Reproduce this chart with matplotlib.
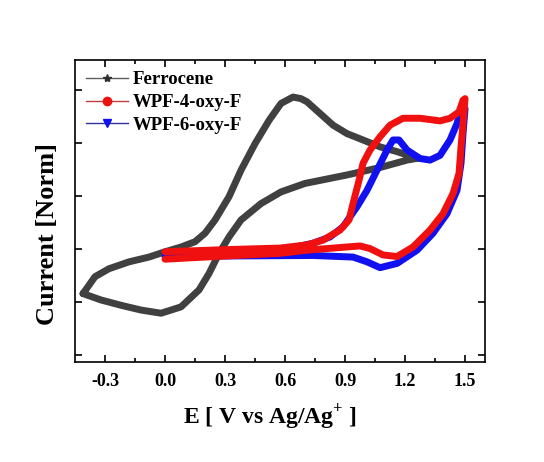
import matplotlib.pyplot as plt
from matplotlib.lines import Line2D

plt.rcParams['font.family'] = ['Liberation Serif', 'DejaVu Serif']
plt.rcParams['font.weight'] = 'bold'
plt.rcParams['axes.labelweight'] = 'bold'
plt.rcParams['mathtext.fontset'] = 'custom'
plt.rcParams['mathtext.rm'] = 'Liberation Serif:bold'
plt.rcParams['mathtext.bf'] = 'Liberation Serif:bold'

# Ferrocene loop (E [V], normalised current)
fc_x = [-0.41, -0.35, -0.28, -0.18, -0.08, 0.0, 0.08, 0.15, 0.2, 0.25, 0.32, 0.38, 0.45,
        0.52, 0.58, 0.64, 0.68, 0.71, 0.775, 0.84, 0.91, 0.99, 1.075, 1.16, 1.24, 1.27,
        1.21, 1.075, 0.91, 0.74, 0.7, 0.58, 0.48, 0.38, 0.32, 0.27, 0.22, 0.17, 0.08,
        -0.02, -0.12, -0.22, -0.32, -0.41]
fc_y = [-0.84, -0.52, -0.37, -0.24, -0.15, -0.05, 0.04, 0.14, 0.3, 0.55, 0.99, 1.49, 1.99,
        2.43, 2.75, 2.87, 2.84, 2.78, 2.56, 2.34, 2.18, 2.06, 1.93, 1.84, 1.74, 1.72,
        1.68, 1.54, 1.4, 1.27, 1.24, 1.08, 0.86, 0.55, 0.23, -0.08, -0.46, -0.77, -1.09,
        -1.21, -1.15, -1.06, -0.96, -0.84]

# WPF-4-oxy-F loop
r_x = [0.0, 0.3, 0.575, 0.71, 0.79, 0.875, 0.92, 0.94, 0.97, 0.99, 1.025, 1.075, 1.125,
       1.19, 1.275, 1.375, 1.425, 1.47, 1.49, 1.5, 1.49, 1.48, 1.47, 1.44, 1.39, 1.325,
       1.24, 1.16, 1.09, 1.025, 0.975, 0.875, 0.71, 0.575, 0.3, 0.0]
r_y = [-0.05, -0.01, 0.02, 0.08, 0.17, 0.36, 0.55, 0.86, 1.3, 1.62, 1.87, 2.12, 2.34,
       2.47, 2.47, 2.42, 2.47, 2.59, 2.81, 2.84, 2.37, 1.93, 1.43, 1.05, 0.67, 0.36,
       0.04, -0.14, -0.11, 0.01, 0.06, 0.03, -0.02, -0.08, -0.13, -0.19]

# WPF-6-oxy-F loop
b_x = [0.0, 0.3, 0.6, 0.74, 0.825, 0.89, 0.96, 1.01, 1.06, 1.11, 1.14, 1.17, 1.21, 1.275,
       1.325, 1.375, 1.425, 1.46, 1.48, 1.5, 1.49, 1.48, 1.46, 1.41, 1.34, 1.26, 1.16,
       1.075, 1.01, 0.94, 0.74, 0.3, 0.0]
b_y = [-0.08, -0.05, 0.0, 0.11, 0.23, 0.42, 0.8, 1.11, 1.49, 1.87, 2.06, 2.06, 1.87, 1.71,
       1.68, 1.77, 2.06, 2.37, 2.62, 2.65, 2.18, 1.62, 1.11, 0.67, 0.3, -0.02, -0.27,
       -0.35, -0.24, -0.15, -0.12, -0.13, -0.14]

xticks = [-0.3, 0.0, 0.3, 0.6, 0.9, 1.2, 1.5]
yticks = [-2, -1, 0, 1, 2, 3]

fig = plt.figure(figsize=(5.44, 4.62), dpi=100)
ax = fig.add_axes([0.1379, 0.2165, 0.7537, 0.6537])

style = dict(lw=5, solid_joinstyle='round', solid_capstyle='round')
ax.plot(fc_x, fc_y, color='#404040', **style)
ax.plot(b_x, b_y, color='#1010f0', **style)
ax.plot(r_x, r_y, color='#f01010', **style)

ax.set_xlim(-0.45, 1.6)
ax.set_ylim(-2.13, 3.57)
ax.set_xticks(xticks)
ax.set_xticklabels([f'{t:.1f}' for t in xticks])
ax.set_xticks([t + 0.15 for t in [-0.45] + xticks][:-1], minor=True)
ax.set_yticks(yticks)
ax.set_yticklabels([])
ax.tick_params(which='both', direction='in', top=True, right=True, width=1.2)
ax.tick_params(which='major', length=5, labelsize=13, pad=8)
ax.tick_params(which='minor', length=3)
for s in ax.spines.values():
    s.set_linewidth(1.2)

ax.set_xlabel(r'E [ V vs Ag/Ag$^{+}$ ]', fontsize=17, fontweight='bold')
ax.xaxis.set_label_coords(0.476, -0.133)
ax.set_ylabel('Current [Norm]', fontsize=19, fontweight='bold')
ax.yaxis.set_label_coords(-0.04, 0.424)

handles = [
    Line2D([], [], color='#606060', lw=1, marker='*', ms=6, mfc='#303030', mec='#303030'),
    Line2D([], [], color='#c04040', lw=1, marker='o', ms=6, mfc='#f01010', mec='#f01010'),
    Line2D([], [], color='#3030a0', lw=1, marker='v', ms=6, mfc='#1010f0', mec='#1010f0'),
]
ax.legend(handles, ['Ferrocene', 'WPF-4-oxy-F', 'WPF-6-oxy-F'], loc='upper left',
          frameon=False, fontsize=13.5, handlelength=2.2, handletextpad=0.3,
          labelspacing=0.3, borderaxespad=0.2)

fig.savefig('out.png', dpi=100)
